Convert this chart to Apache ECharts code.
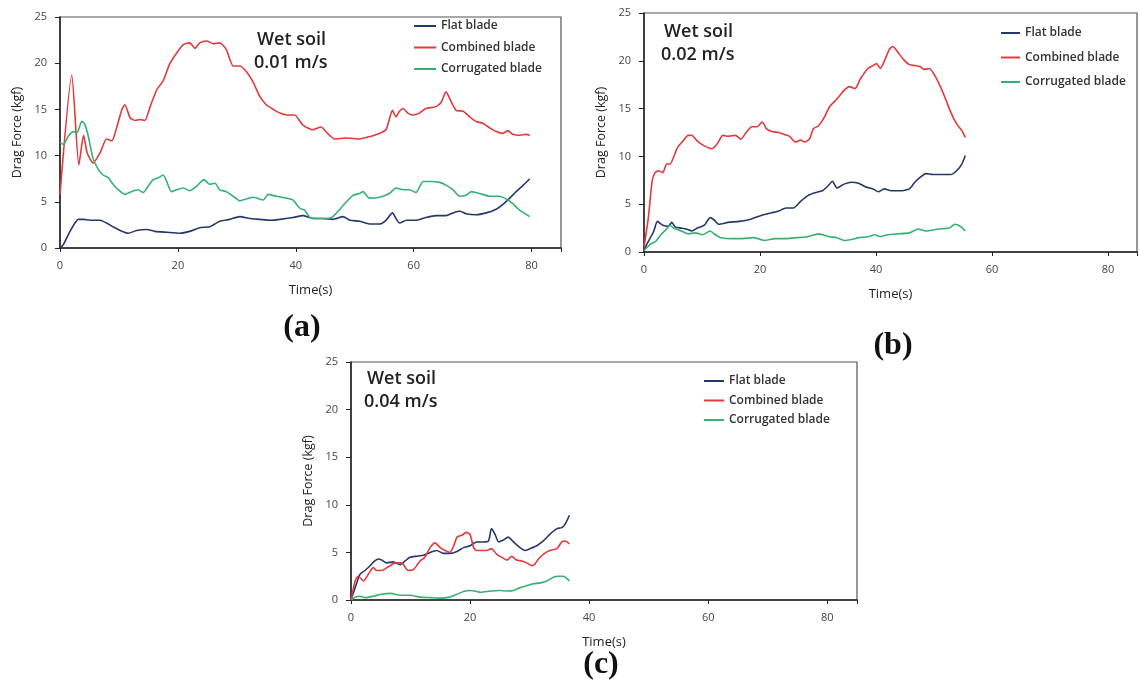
<!DOCTYPE html>
<html>
<head>
<meta charset="utf-8">
<title>Drag force - wet soil</title>
<script src="https://cdn.jsdelivr.net/npm/echarts@6/dist/echarts.min.js"></script>
<style>
  html, body { margin: 0; padding: 0; background: #fff; }
  #chart { width: 1140px; height: 682px; }
</style>
</head>
<body>
<div id="chart"></div>
<script>
// 数据: [时间(s), 拖曳力(kgf)]
var legendNames = ["Flat blade", "Combined blade", "Corrugated blade"];
var xTicks = [0, 20, 40, 60, 80];
var yTicks = [0, 5, 10, 15, 20, 25];

// (a) 0.01 m/s
var flatA = [[0,0],[0.6,0.4],[1.7,1.8],[3.1,3.1],[4.0,3.1],[5.1,3.0],[6.8,3.0],[7.9,2.7],[9.0,2.3],[10.2,1.9],[11.6,1.6],[13.0,1.9],[14.7,2.0],[16.1,1.8],[18.1,1.7],[20.3,1.6],[22.0,1.8],[23.7,2.2],[25.4,2.3],[27.1,2.9],[28.8,3.1],[30.5,3.4],[32.2,3.2],[33.9,3.1],[35.6,3.0],[37.3,3.1],[39.5,3.3],[41.2,3.5],[42.9,3.2],[44.6,3.2],[46.3,3.1],[48.0,3.4],[49.2,3.0],[50.8,2.9],[52.5,2.6],[54.2,2.6],[55.3,3.0],[56.4,3.8],[57.0,3.2],[57.6,2.7],[58.8,3.0],[60.4,3.0],[62.1,3.3],[63.8,3.5],[65.5,3.5],[66.7,3.8],[67.8,4.0],[68.9,3.7],[70.6,3.6],[72.3,3.8],[74.0,4.2],[75.1,4.7],[76.3,5.4],[77.4,6.1],[78.6,6.8],[79.7,7.5]];
var combA = [[0,5.8],[2.0,18.7],[3.2,9.0],[4.0,12.2],[4.6,10.3],[5.6,9.2],[6.8,10.3],[7.9,11.8],[8.8,11.6],[9.6,13.0],[10.5,15.0],[11.0,15.5],[11.9,14.1],[12.7,13.8],[13.6,13.9],[14.4,13.8],[15.3,15.3],[16.4,17.1],[17.5,18.1],[18.6,19.9],[19.8,21.1],[20.9,22.0],[22.0,22.2],[22.9,21.6],[23.7,22.2],[24.9,22.4],[26.0,22.1],[27.1,22.2],[28.2,21.5],[29.4,19.7],[30.5,19.7],[31.6,19.1],[32.8,17.9],[33.9,16.4],[35.0,15.5],[36.2,15.0],[37.3,14.6],[38.5,14.4],[39.8,14.4],[41.2,13.3],[42.9,12.8],[44.3,13.1],[45.4,12.4],[46.6,11.8],[48.6,11.9],[50.8,11.8],[52.8,12.1],[54.2,12.4],[55.3,12.8],[55.9,14.0],[56.4,14.9],[57.0,14.2],[57.6,14.8],[58.2,15.1],[59.0,14.6],[59.9,14.4],[61.0,14.6],[62.1,15.1],[63.8,15.3],[64.7,15.8],[65.5,16.9],[66.4,15.8],[67.2,14.9],[68.4,14.8],[69.5,14.2],[70.6,13.7],[71.7,13.5],[72.9,13.0],[74.0,12.6],[75.1,12.4],[76.0,12.7],[76.8,12.3],[78.0,12.2],[79.1,12.3],[79.7,12.2]];
var corrA = [[0,11.4],[0.6,11.2],[1.4,12.1],[2.3,12.6],[2.9,12.5],[3.7,13.7],[4.2,13.4],[4.8,12.1],[5.6,9.7],[6.5,8.5],[7.3,7.9],[8.2,7.6],[9.0,6.9],[9.9,6.3],[11.0,5.8],[12.1,6.1],[13.3,6.3],[14.1,6.0],[15.0,6.7],[15.8,7.4],[16.7,7.6],[17.5,7.9],[18.1,7.2],[18.9,6.1],[19.8,6.3],[20.9,6.5],[22.0,6.2],[23.2,6.7],[24.4,7.4],[25.4,6.9],[26.3,7.0],[27.1,6.3],[28.2,6.1],[29.4,5.6],[30.5,5.1],[31.6,5.3],[32.8,5.5],[34.5,5.2],[35.3,5.8],[36.7,5.6],[38.4,5.4],[39.5,5.2],[40.7,4.3],[41.5,4.1],[42.4,3.3],[43.5,3.2],[45.2,3.2],[46.3,3.4],[47.5,4.2],[48.6,5.0],[49.7,5.7],[50.8,5.9],[51.4,6.1],[52.5,5.4],[54.2,5.5],[55.9,5.9],[57.0,6.5],[58.2,6.3],[59.3,6.3],[60.4,6.0],[61.6,7.2],[63.0,7.2],[64.4,7.1],[65.5,6.8],[66.7,6.3],[67.8,5.6],[68.9,5.7],[69.8,6.1],[71.2,5.9],[72.9,5.6],[74.6,5.6],[76.0,5.2],[76.8,4.8],[78.0,4.1],[79.7,3.4]];

// (b) 0.02 m/s
var flatB = [[0,0.25],[0.75,1.1],[1.7,2.2],[2.3,3.2],[3.25,2.8],[4.2,2.7],[4.8,3.1],[5.4,2.6],[6.4,2.5],[7.3,2.4],[8.25,2.2],[9.2,2.5],[10.4,2.8],[11.4,3.6],[12.0,3.4],[12.9,2.9],[14.5,3.1],[16.4,3.2],[18.25,3.4],[20.1,3.8],[22.0,4.1],[23.25,4.3],[24.5,4.6],[25.75,4.6],[27.0,5.3],[28.25,5.9],[29.5,6.2],[30.75,6.4],[31.7,6.9],[32.5,7.4],[33.25,6.7],[34.5,7.1],[35.75,7.3],[37.0,7.2],[38.25,6.8],[39.5,6.6],[40.4,6.3],[41.4,6.6],[42.6,6.4],[44.2,6.4],[45.75,6.6],[46.7,7.3],[47.6,7.8],[48.6,8.2],[49.8,8.1],[51.4,8.1],[52.9,8.1],[53.9,8.5],[54.8,9.2],[55.4,10.1]];
var combB = [[0,0.5],[0.75,3.6],[1.4,7.4],[1.9,8.3],[2.5,8.5],[3.25,8.3],[3.9,9.2],[4.5,9.2],[5.1,9.9],[5.75,10.9],[6.7,11.6],[7.6,12.2],[8.25,12.2],[9.2,11.6],[10.4,11.1],[11.7,10.8],[12.6,11.3],[13.6,12.2],[14.5,12.1],[15.75,12.2],[16.7,11.8],[17.6,12.5],[18.6,13.1],[19.5,13.1],[20.4,13.6],[21.1,12.9],[22.0,12.6],[23.25,12.5],[24.2,12.3],[25.1,12.1],[26.1,11.5],[27.0,11.7],[27.75,11.5],[28.6,11.9],[29.2,12.9],[30.1,13.2],[31.1,14.1],[32.0,15.2],[33.25,16.0],[34.5,16.9],[35.4,17.3],[36.4,17.1],[37.3,18.1],[38.6,19.2],[39.5,19.5],[40.1,19.7],[40.75,19.2],[41.6,20.2],[42.3,21.2],[42.9,21.5],[43.9,20.8],[44.8,20.1],[45.75,19.6],[46.7,19.5],[47.6,19.4],[48.25,19.1],[49.2,19.2],[50.1,18.5],[51.1,17.3],[52.0,16.0],[52.9,14.6],[53.9,13.4],[54.8,12.7],[55.4,12.0]];
var corrB = [[0,0.15],[1.1,0.8],[2.0,1.1],[2.9,1.8],[3.9,2.4],[4.5,2.8],[5.1,2.5],[6.4,2.2],[7.6,1.9],[8.9,2.0],[10.1,1.8],[11.4,2.2],[12.3,1.8],[13.25,1.5],[15.1,1.4],[17.0,1.4],[18.9,1.5],[20.75,1.2],[22.6,1.4],[24.5,1.4],[26.4,1.5],[28.25,1.6],[30.1,1.9],[32.0,1.6],[33.25,1.5],[34.5,1.2],[35.75,1.3],[37.0,1.5],[38.6,1.6],[39.8,1.8],[40.75,1.6],[42.0,1.8],[43.9,1.9],[45.75,2.0],[47.3,2.4],[48.6,2.2],[50.75,2.4],[52.6,2.5],[53.6,2.9],[54.5,2.7],[55.4,2.2]];

// (c) 0.04 m/s
var flatC = [[0,0],[0.7,1.3],[1.5,2.7],[2.35,3.1],[3.2,3.6],[4.0,4.1],[4.6,4.3],[5.15,4.2],[6.0,3.9],[7.1,4.0],[8.2,3.7],[9.1,4.1],[9.9,4.5],[11.0,4.6],[12.2,4.7],[13.3,5.0],[14.4,5.2],[15.5,4.9],[16.6,4.9],[17.8,5.1],[18.9,5.5],[20.0,5.7],[21.1,6.1],[22.2,6.1],[23.1,6.2],[23.6,7.5],[24.2,6.9],[24.8,6.1],[25.6,6.3],[26.4,6.6],[27.3,6.1],[28.4,5.5],[29.2,5.2],[30.1,5.4],[31.2,5.7],[32.3,6.2],[33.4,6.9],[34.6,7.5],[35.4,7.6],[36.0,8.0],[36.7,8.9]];
var combC = [[0,0],[0.7,2.0],[1.2,2.5],[2.1,2.0],[2.9,2.7],[3.75,3.4],[4.3,3.1],[5.15,3.1],[6.3,3.5],[7.4,3.9],[8.5,3.9],[9.6,3.1],[10.5,3.2],[11.6,4.1],[12.4,4.5],[13.3,5.5],[14.1,6.0],[15.0,5.5],[15.8,5.2],[16.6,5.0],[17.2,5.6],[17.8,6.6],[18.6,6.8],[19.4,7.1],[20.0,6.9],[20.6,5.5],[21.1,5.2],[22.0,5.2],[22.8,5.2],[23.6,5.4],[24.5,4.8],[25.3,4.5],[26.2,4.2],[27.0,4.6],[27.8,4.2],[28.7,4.1],[29.5,3.9],[30.4,3.6],[30.9,3.8],[31.5,4.3],[32.3,4.8],[33.4,5.2],[34.6,5.4],[35.4,6.1],[36.0,6.2],[36.7,5.9]];
var corrC = [[0,0],[0.7,0.3],[1.5,0.4],[2.35,0.25],[3.75,0.4],[5.15,0.6],[6.6,0.7],[8.2,0.5],[9.9,0.5],[11.6,0.3],[13.3,0.25],[15.0,0.2],[16.6,0.3],[17.8,0.6],[18.9,0.9],[20.0,1.0],[20.8,0.95],[21.7,0.8],[22.8,0.9],[23.9,0.95],[25.0,1.0],[26.2,0.95],[27.3,1.0],[28.4,1.3],[29.5,1.5],[30.6,1.7],[31.8,1.8],[32.9,2.0],[34.0,2.4],[34.8,2.5],[35.7,2.5],[36.2,2.3],[36.7,2.0]];

var myChart = echarts.init(document.getElementById("chart"), null, { renderer: "canvas" });

var colors = ["#25386a", "#e2393c", "#35b273"];
var font = "'Open Sans', 'DejaVu Sans', sans-serif";

// 三个面板的位置
var panels = [
  { grid: { left: 60, top: 17, width: 501, height: 231 }, data: [flatA, combA, corrA],
    legend: { left: 414, top: 19, itemWidth: 22, itemGap: 7.5 }, speed: "0.01 m/s",
    tx: 257, ty: 40, label: "(a)", lx: 302, ly: 328 },
  { grid: { left: 644, top: 13, width: 502, height: 239 }, data: [flatB, combB, corrB],
    legend: { left: 1001, top: 26, itemWidth: 19, itemGap: 10.5 }, speed: "0.02 m/s",
    tx: 664, ty: 32, label: "(b)", lx: 893, ly: 346 },
  { grid: { left: 351, top: 362, width: 506, height: 238 }, data: [flatC, combC, corrC],
    legend: { left: 704, top: 374, itemWidth: 20, itemGap: 5.5 }, speed: "0.04 m/s",
    tx: 367, ty: 379, label: "(c)", lx: 601, ly: 665 }
];

var option = {
  backgroundColor: "#fff",
  animation: false,
  color: colors,
  grid: [],
  xAxis: [],
  yAxis: [],
  legend: [],
  series: [],
  graphic: []
};

panels.forEach(function (p, i) {
  var g = p.grid;
  option.grid.push({
    left: g.left, top: g.top, width: g.width, height: g.height,
    containLabel: false,
    show: true,
    borderColor: "#555",
    borderWidth: 1.2
  });
  option.xAxis.push({
    type: "value",
    gridIndex: i,
    min: xTicks[0],
    max: 85,
    interval: 20,
    name: "Time(s)",
    nameLocation: "middle",
    nameGap: 36,
    nameTextStyle: { fontFamily: font, fontSize: 13, color: "#222" },
    axisLine: { lineStyle: { color: "#222", width: 1.5 } },
    axisTick: { show: true, length: 4, lineStyle: { color: "#222" } },
    axisLabel: {
      fontFamily: font, fontSize: 11, color: "#444", margin: 12,
      formatter: function (v) { return xTicks.indexOf(v) >= 0 ? v : ""; }
    },
    splitLine: { show: false }
  });
  option.yAxis.push({
    type: "value",
    gridIndex: i,
    min: yTicks[0],
    max: yTicks[yTicks.length - 1],
    interval: 5,
    name: "Drag Force (kgf)",
    nameLocation: "middle",
    nameGap: 36,
    nameTextStyle: { fontFamily: font, fontSize: 12.5, color: "#222" },
    axisLine: { show: true, lineStyle: { color: "#222", width: 1.5 } },
    axisTick: { show: true, length: 5, lineStyle: { color: "#222" } },
    axisLabel: { fontFamily: font, fontSize: 11, color: "#444", margin: 13 },
    splitLine: { show: false }
  });
  option.legend.push({
    data: legendNames,
    orient: "vertical",
    left: p.legend.left,
    top: p.legend.top,
    padding: 0,
    itemWidth: p.legend.itemWidth,
    itemHeight: 2,
    itemGap: p.legend.itemGap,
    icon: "rect",
    textStyle: { fontFamily: font, fontSize: 12, fontWeight: 600, color: "#333", lineHeight: 14 }
  });
  legendNames.forEach(function (name, k) {
    option.series.push({
      name: name,
      type: "line",
      xAxisIndex: i,
      yAxisIndex: i,
      data: p.data[k],
      showSymbol: false,
      smooth: 0.2,
      lineStyle: { width: 1.6, color: colors[k] },
      itemStyle: { color: colors[k] }
    });
  });
  // 面板内的说明文字
  option.graphic.push({
    type: "text", x: p.tx, y: p.ty,
    style: { text: "Wet soil", fontFamily: font, fontSize: 18, fontWeight: 600, fill: "#222", verticalAlign: "middle" }
  });
  option.graphic.push({
    type: "text", x: p.tx - 3, y: p.ty + 23,
    style: { text: p.speed, fontFamily: font, fontSize: 18, fontWeight: 600, fill: "#222", verticalAlign: "middle" }
  });
  option.graphic.push({
    type: "text", x: p.lx, y: p.ly,
    style: { text: p.label, fontFamily: "'Liberation Serif', serif", fontSize: 32, fontWeight: "bold", fill: "#111", align: "center", verticalAlign: "middle" }
  });
});

myChart.setOption(option);
window.addEventListener("resize", function () {
  myChart.resize();
});
</script>
</body>
</html>
